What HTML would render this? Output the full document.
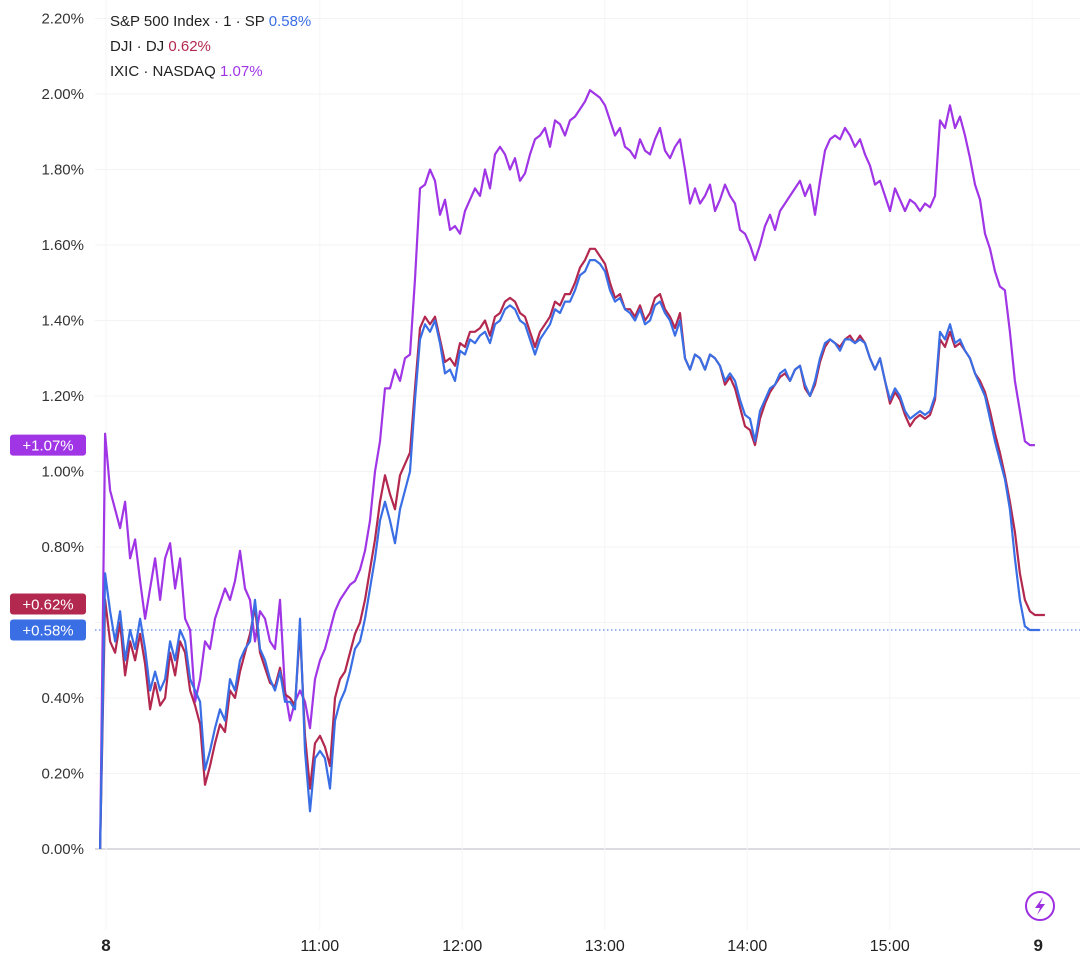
<!DOCTYPE html>
<html><head><meta charset="utf-8"><style>
html,body{margin:0;padding:0;background:#fff;}
body{width:1080px;height:961px;overflow:hidden;font-family:"Liberation Sans",sans-serif;}
</style></head><body>
<svg id="chart" width="1080" height="961" xmlns="http://www.w3.org/2000/svg" font-family="Liberation Sans, sans-serif"></svg>
<script>
const yTicks=[0,0.2,0.4,0.6,0.8,1.0,1.2,1.4,1.6,1.8,2.0,2.2];
const xTickMinutes=[0,90,150,210,270,330,390];
const xTickLabels=["8","11:00","12:00","13:00","14:00","15:00","9"];
const startMin=-2.5, stepMin=2.105;
const nasdaq=[0,1.10,0.95,0.90,0.85,0.92,0.77,0.82,0.71,0.61,0.69,0.77,0.66,0.77,0.81,0.69,0.77,0.61,0.58,0.39,0.45,0.55,0.53,0.61,0.65,0.69,0.66,0.71,0.79,0.69,0.66,0.55,0.63,0.61,0.55,0.53,0.66,0.42,0.34,0.39,0.42,0.39,0.32,0.45,0.50,0.53,0.58,0.63,0.66,0.68,0.70,0.71,0.74,0.79,0.87,1.00,1.08,1.22,1.22,1.27,1.24,1.30,1.31,1.51,1.75,1.76,1.80,1.77,1.68,1.72,1.64,1.65,1.63,1.69,1.72,1.75,1.73,1.80,1.75,1.84,1.86,1.84,1.80,1.83,1.77,1.79,1.84,1.88,1.89,1.91,1.86,1.93,1.92,1.89,1.93,1.94,1.96,1.98,2.01,2.00,1.99,1.97,1.93,1.89,1.91,1.86,1.85,1.83,1.88,1.85,1.84,1.88,1.91,1.85,1.83,1.86,1.88,1.80,1.71,1.75,1.71,1.73,1.76,1.69,1.72,1.76,1.73,1.71,1.64,1.63,1.60,1.56,1.60,1.65,1.68,1.64,1.69,1.71,1.73,1.75,1.77,1.73,1.76,1.68,1.77,1.85,1.88,1.89,1.88,1.91,1.89,1.86,1.88,1.84,1.81,1.76,1.77,1.73,1.69,1.75,1.72,1.69,1.72,1.71,1.69,1.71,1.70,1.73,1.93,1.91,1.97,1.91,1.94,1.89,1.83,1.76,1.72,1.63,1.59,1.53,1.49,1.48,1.37,1.24,1.16,1.08,1.07,1.07];
const sp500=[0,0.73,0.63,0.55,0.63,0.50,0.58,0.53,0.61,0.53,0.42,0.47,0.42,0.45,0.55,0.50,0.58,0.55,0.45,0.42,0.39,0.21,0.26,0.32,0.37,0.34,0.45,0.42,0.50,0.53,0.55,0.66,0.53,0.50,0.45,0.42,0.47,0.39,0.39,0.37,0.61,0.26,0.10,0.24,0.26,0.24,0.16,0.34,0.39,0.42,0.47,0.53,0.55,0.61,0.69,0.77,0.87,0.92,0.87,0.81,0.90,0.95,1.00,1.19,1.35,1.39,1.37,1.40,1.34,1.26,1.27,1.24,1.32,1.31,1.35,1.34,1.36,1.37,1.34,1.39,1.40,1.43,1.44,1.43,1.40,1.39,1.35,1.31,1.35,1.37,1.39,1.43,1.42,1.45,1.45,1.48,1.52,1.53,1.56,1.56,1.55,1.53,1.48,1.45,1.46,1.43,1.42,1.40,1.43,1.39,1.40,1.44,1.45,1.42,1.40,1.36,1.40,1.30,1.27,1.31,1.30,1.27,1.31,1.30,1.28,1.24,1.26,1.24,1.19,1.15,1.14,1.08,1.16,1.19,1.22,1.23,1.26,1.27,1.24,1.27,1.28,1.23,1.20,1.24,1.30,1.34,1.35,1.34,1.32,1.35,1.35,1.34,1.35,1.34,1.30,1.27,1.30,1.24,1.19,1.22,1.20,1.16,1.14,1.15,1.16,1.15,1.16,1.20,1.37,1.35,1.39,1.34,1.35,1.32,1.30,1.26,1.23,1.20,1.14,1.08,1.03,0.98,0.90,0.77,0.66,0.59,0.58,0.58,0.58];
const dji=[0,0.66,0.55,0.52,0.60,0.46,0.55,0.50,0.57,0.49,0.37,0.44,0.38,0.40,0.52,0.46,0.55,0.52,0.42,0.38,0.33,0.17,0.22,0.28,0.33,0.31,0.42,0.40,0.47,0.52,0.57,0.64,0.52,0.48,0.44,0.43,0.48,0.41,0.40,0.38,0.58,0.30,0.16,0.28,0.30,0.27,0.22,0.40,0.45,0.47,0.52,0.57,0.60,0.66,0.74,0.82,0.92,0.99,0.94,0.90,0.99,1.02,1.05,1.22,1.38,1.41,1.39,1.41,1.35,1.29,1.30,1.28,1.34,1.33,1.37,1.37,1.38,1.40,1.36,1.41,1.42,1.45,1.46,1.45,1.42,1.41,1.37,1.33,1.37,1.39,1.41,1.45,1.44,1.47,1.47,1.50,1.54,1.56,1.59,1.59,1.57,1.55,1.50,1.46,1.47,1.43,1.43,1.41,1.44,1.40,1.42,1.46,1.47,1.43,1.41,1.38,1.42,1.30,1.27,1.31,1.30,1.27,1.31,1.30,1.28,1.23,1.25,1.22,1.17,1.12,1.11,1.07,1.14,1.18,1.21,1.23,1.25,1.26,1.24,1.27,1.28,1.22,1.20,1.23,1.29,1.33,1.35,1.34,1.33,1.35,1.36,1.34,1.36,1.34,1.30,1.27,1.30,1.24,1.18,1.21,1.19,1.15,1.12,1.14,1.15,1.14,1.15,1.19,1.35,1.33,1.37,1.33,1.34,1.32,1.30,1.26,1.24,1.21,1.16,1.10,1.05,0.99,0.92,0.84,0.73,0.66,0.63,0.62,0.62,0.62];
const seriesNames=["S&P 500 Index · 1 · SP","DJI · DJ","IXIC · NASDAQ"];
const lastValues=[0.58,0.62,1.07];

const NS="http://www.w3.org/2000/svg";
const svg=document.getElementById('chart');
const yScale=v=>849-v*377.5;
const xScale=m=>106+m*2.375;
function mk(tag,attrs,parent){const e=document.createElementNS(NS,tag);for(const k in attrs)e.setAttribute(k,attrs[k]);(parent||svg).appendChild(e);return e;}

const badgeNudge=[0,-11,0];
const badgeCenters=lastValues.map((v,i)=>yScale(v)+badgeNudge[i]);

yTicks.forEach(v=>{
  const g=mk('line',{x1:95,x2:1080,y1:yScale(v),y2:yScale(v),stroke:v===0?'#b8b8c0':'#f3f3f5','stroke-width':1});
  
  
  const hidden=badgeCenters.some(c=>Math.abs(c-yScale(v))<16);
  if(hidden) return;
  const t=mk('text',{x:84,y:yScale(v)+5,'text-anchor':'end','font-size':15,fill:'#333'});
  t.textContent=v.toFixed(2)+'%';
  
  
});
xTickMinutes.forEach((m,i)=>{
  const g=mk('line',{x1:xScale(m),x2:xScale(m),y1:0,y2:930,stroke:'#f5f5f7','stroke-width':1});
  
  
  const bold=(i===0||i===xTickLabels.length-1);
  const t=mk('text',{x:xScale(m)+(i===6?6:0),y:951,'text-anchor':'middle','font-size':bold?17:16,'font-weight':bold?'bold':'normal',fill:'#222'});
  t.textContent=xTickLabels[i];
  
  
});
const dl=mk('line',{x1:95,x2:1080,y1:yScale(lastValues[0]),y2:yScale(lastValues[0]),stroke:'#3a6fe0','stroke-width':1,'stroke-dasharray':'1.5 2.5'});



function drawLine(arr,color,name){
  const d=arr.map((v,i)=>(i?'L':'M')+xScale(startMin+i*stepMin).toFixed(1)+','+yScale(v).toFixed(1)).join(' ');
  const p=mk('path',{d:d,fill:'none',stroke:color,'stroke-width':2.2,'stroke-linejoin':'round'});
  
  
}
drawLine(nasdaq,'#a035e6','nasdaq-line');
drawLine(dji,'#b3284f','dji-line');
drawLine(sp500,'#3a6ee4','sp500-line');

const badgeColors=['#3a6ee4','#b3284f','#a035e6'];
const badgeNames=['sp500-badge','dji-badge','nasdaq-badge'];
lastValues.forEach((v,i)=>{
  const y=badgeCenters[i];
  const r=mk('rect',{x:10,y:y-10.5,width:76,height:21,rx:3,fill:badgeColors[i]});
  
  
  const t=mk('text',{x:48,y:y+5.5,'text-anchor':'middle','font-size':15,fill:'#fff'});
  t.textContent='+'+v.toFixed(2)+'%';
  
  
});
const legColors=['#3a6ee4','#b3284f','#a035e6'];
const legNames=['legend-sp500','legend-dji','legend-nasdaq'];
seriesNames.forEach((n,i)=>{
  const t=mk('text',{x:110,y:26+i*25,'font-size':15,fill:'#222'});
  
  
  const a=mk('tspan',{},t);a.textContent=n+'  ';
  const b=mk('tspan',{fill:legColors[i]},t);b.textContent=lastValues[i].toFixed(2)+'%';
});
const ic=mk('g',{});


mk('circle',{cx:1040,cy:906,r:14,fill:'#fff',stroke:'#9c2fe0','stroke-width':2},ic);
mk('path',{d:'M1043,897 L1035,908 L1040,908 L1037,915 L1045,904 L1040,904 Z',fill:'#9c2fe0'},ic);
</script>
</body></html>
